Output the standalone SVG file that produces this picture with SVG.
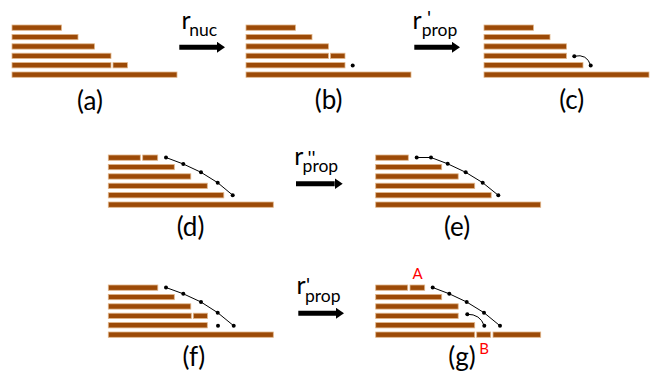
<svg xmlns="http://www.w3.org/2000/svg" width="657" height="377" viewBox="0 0 657 377">
  <defs>
    <style>
      .bar { fill: #9C4A07; stroke: #E2B68A; stroke-width: 0.8; }
      .dot { fill: #000; }
      .chain { fill: none; stroke: #000; stroke-width: 1; }
      .arrow { stroke: #000; stroke-width: 5; marker-end: url(#head); }
      .lbl { font-family: Lato, "Liberation Sans", sans-serif; font-size: 26px; fill: #000; text-anchor: middle; }
      .rate { font-family: Lato, "Liberation Sans", sans-serif; font-size: 25px; fill: #000; }
      .sub { font-size: 17.5px; }
      .prime { font-size: 20px; }
      .red { font-family: Lato, "Liberation Sans", sans-serif; font-size: 15px; fill: #FF0000; text-anchor: middle; }
    </style>
    <marker id="head" markerUnits="userSpaceOnUse" markerWidth="8" markerHeight="11" refX="0" refY="5.5" orient="auto">
      <path d="M0,0 L8,5.5 L0,11 z" fill="#000"/>
    </marker>
  </defs>
  <rect width="657" height="377" fill="#fff"/>

  <!-- panel (a) -->
  <g id="panel-a">
    <rect class="bar" x="12" y="25" width="49.5" height="5.3"/>
    <rect class="bar" x="12" y="34.4" width="66" height="5.3"/>
    <rect class="bar" x="12" y="43.8" width="82.5" height="5.3"/>
    <rect class="bar" x="12" y="53.2" width="99" height="5.3"/>
    <rect class="bar" x="12" y="62.6" width="99" height="5.3"/>
    <rect class="bar" x="113" y="62.6" width="14.5" height="5.3"/>
    <rect class="bar" x="12" y="72" width="165" height="5.3"/>
    <text class="lbl" x="90" y="110">(a)</text>
  </g>

  <!-- panel (b) -->
  <g id="panel-b">
    <rect class="bar" x="246" y="25" width="49.5" height="5.3"/>
    <rect class="bar" x="246" y="34.4" width="66" height="5.3"/>
    <rect class="bar" x="246" y="43.8" width="82.5" height="5.3"/>
    <rect class="bar" x="246" y="53.2" width="82.5" height="5.3"/>
    <rect class="bar" x="330.5" y="53.2" width="14.5" height="5.3"/>
    <rect class="bar" x="246" y="62.6" width="99" height="5.3"/>
    <rect class="bar" x="246" y="72" width="165" height="5.3"/>
    <circle class="dot" cx="352.7" cy="65.5" r="2"/>
    <text class="lbl" x="328.7" y="109">(b)</text>
  </g>

  <!-- panel (c) -->
  <g id="panel-c">
    <rect class="bar" x="484" y="25" width="49.5" height="5.3"/>
    <rect class="bar" x="484" y="34.4" width="66" height="5.3"/>
    <rect class="bar" x="484" y="43.8" width="82.5" height="5.3"/>
    <rect class="bar" x="484" y="53.2" width="82.5" height="5.3"/>
    <rect class="bar" x="484" y="62.6" width="99" height="5.3"/>
    <rect class="bar" x="484" y="72" width="165" height="5.3"/>
    <path class="chain" d="M574.3,56.2 Q587,53.5 590.7,65.5"/>
    <circle class="dot" cx="574.3" cy="56.2" r="2"/>
    <circle class="dot" cx="590.7" cy="65.5" r="2"/>
    <text class="lbl" x="571.7" y="109">(c)</text>
  </g>

  <!-- panel (d) -->
  <g id="panel-d">
    <rect class="bar" x="108.3" y="155" width="32" height="5.3"/>
    <rect class="bar" x="142.7" y="155" width="15" height="5.3"/>
    <rect class="bar" x="108.3" y="164.4" width="66" height="5.3"/>
    <rect class="bar" x="108.3" y="173.8" width="82.5" height="5.3"/>
    <rect class="bar" x="108.3" y="183.2" width="99" height="5.3"/>
    <rect class="bar" x="108.3" y="192.6" width="115.5" height="5.3"/>
    <rect class="bar" x="108.3" y="202" width="165" height="5.3"/>
    <polyline class="chain" points="166,157.5 183.3,164 201,172.3 217.7,182.7 232.7,195.2"/>
    <circle class="dot" cx="166" cy="157.5" r="2"/>
    <circle class="dot" cx="183.3" cy="164" r="2"/>
    <circle class="dot" cx="201" cy="172.3" r="2"/>
    <circle class="dot" cx="217.7" cy="182.7" r="2"/>
    <circle class="dot" cx="232.7" cy="195.2" r="2"/>
    <text class="lbl" x="190.5" y="236">(d)</text>
  </g>

  <!-- panel (e) -->
  <g id="panel-e">
    <rect class="bar" x="375.7" y="155" width="32.6" height="5.3"/>
    <rect class="bar" x="375.7" y="164.4" width="66" height="5.3"/>
    <rect class="bar" x="375.7" y="173.8" width="82.5" height="5.3"/>
    <rect class="bar" x="375.7" y="183.2" width="99" height="5.3"/>
    <rect class="bar" x="375.7" y="192.6" width="115.5" height="5.3"/>
    <rect class="bar" x="375.7" y="202" width="165" height="5.3"/>
    <polyline class="chain" points="416.7,157.5 431,157.5 447.7,163.8 465.7,172.3 482.7,182.7 498.3,195.3"/>
    <circle class="dot" cx="416.7" cy="157.5" r="2"/>
    <circle class="dot" cx="431" cy="157.5" r="2"/>
    <circle class="dot" cx="447.7" cy="163.8" r="2"/>
    <circle class="dot" cx="465.7" cy="172.3" r="2"/>
    <circle class="dot" cx="482.7" cy="182.7" r="2"/>
    <circle class="dot" cx="498.3" cy="195.3" r="2"/>
    <text class="lbl" x="457" y="236">(e)</text>
  </g>

  <!-- panel (f) -->
  <g id="panel-f">
    <rect class="bar" x="108.3" y="285" width="49.5" height="5.3"/>
    <rect class="bar" x="108.3" y="294.4" width="66" height="5.3"/>
    <rect class="bar" x="108.3" y="303.8" width="82.5" height="5.3"/>
    <rect class="bar" x="108.3" y="313.2" width="83" height="5.3"/>
    <rect class="bar" x="193.3" y="313.2" width="14.2" height="5.3"/>
    <rect class="bar" x="108.3" y="322.6" width="99" height="5.3"/>
    <rect class="bar" x="108.3" y="332" width="165" height="5.3"/>
    <polyline class="chain" points="166,287.5 183.3,293.8 201,302 217.7,312.7 233.7,325.8"/>
    <circle class="dot" cx="166" cy="287.5" r="2"/>
    <circle class="dot" cx="183.3" cy="293.8" r="2"/>
    <circle class="dot" cx="201" cy="302" r="2"/>
    <circle class="dot" cx="217.7" cy="312.7" r="2"/>
    <circle class="dot" cx="233.7" cy="325.8" r="2"/>
    <circle class="dot" cx="218" cy="325.8" r="2"/>
    <text class="lbl" x="193.8" y="366">(f)</text>
  </g>

  <!-- panel (g) -->
  <g id="panel-g">
    <rect class="bar" x="375.7" y="285" width="32" height="5.3"/>
    <rect class="bar" x="410" y="285" width="14.7" height="5.3"/>
    <rect class="bar" x="375.7" y="294.4" width="66" height="5.3"/>
    <rect class="bar" x="375.7" y="303.8" width="82.5" height="5.3"/>
    <rect class="bar" x="375.7" y="313.2" width="82.5" height="5.3"/>
    <rect class="bar" x="375.7" y="322.6" width="99" height="5.3"/>
    <rect class="bar" x="375.7" y="332" width="99" height="5.3"/>
    <rect class="bar" x="476.7" y="332" width="14" height="5.3"/>
    <rect class="bar" x="493" y="332" width="47.7" height="5.3"/>
    <polyline class="chain" points="432.7,287.5 449.3,293.8 466.7,302 484,312.7 500,325.8"/>
    <path class="chain" d="M467.3,314.3 Q480,314 484.3,325.8"/>
    <circle class="dot" cx="432.7" cy="287.5" r="2"/>
    <circle class="dot" cx="449.3" cy="293.8" r="2"/>
    <circle class="dot" cx="466.7" cy="302" r="2"/>
    <circle class="dot" cx="484" cy="312.7" r="2"/>
    <circle class="dot" cx="500" cy="325.8" r="2"/>
    <circle class="dot" cx="467.3" cy="314.3" r="2"/>
    <circle class="dot" cx="484.3" cy="325.8" r="2"/>
    <text class="red" x="417.5" y="278.5">A</text>
    <text class="red" x="484.2" y="353.5">B</text>
    <text class="lbl" x="462" y="366">(g)</text>
  </g>

  <!-- reaction arrows -->
  <g id="connectors">
    <line class="arrow" x1="179.3" y1="47.3" x2="217" y2="47.3"/>
    <line class="arrow" x1="414.3" y1="47.3" x2="452" y2="47.3"/>
    <line class="arrow" x1="296" y1="183.7" x2="334.7" y2="183.7"/>
    <line class="arrow" x1="298.3" y1="313.3" x2="336" y2="313.3"/>
  </g>

  <!-- rate constants: r with prime marks and subscripts -->
  <g id="rate-labels">
    <text class="rate" x="181.5" y="28.5">r<tspan class="sub" x="189.3" y="35.7">nuc</tspan></text>
    <text class="rate" x="412.5" y="28.5">r<tspan class="prime" x="427" y="24.5">'</tspan><tspan class="sub" x="421.8" y="35.7">prop</tspan></text>
    <text class="rate" x="294.2" y="164.7">r<tspan class="prime" x="307.5" y="165">''</tspan><tspan class="sub" x="302.6" y="172">prop</tspan></text>
    <text class="rate" x="296.5" y="294.4">r<tspan class="prime" x="306" y="291.5">'</tspan><tspan class="sub" x="305" y="301.7">prop</tspan></text>
  </g>
</svg>
